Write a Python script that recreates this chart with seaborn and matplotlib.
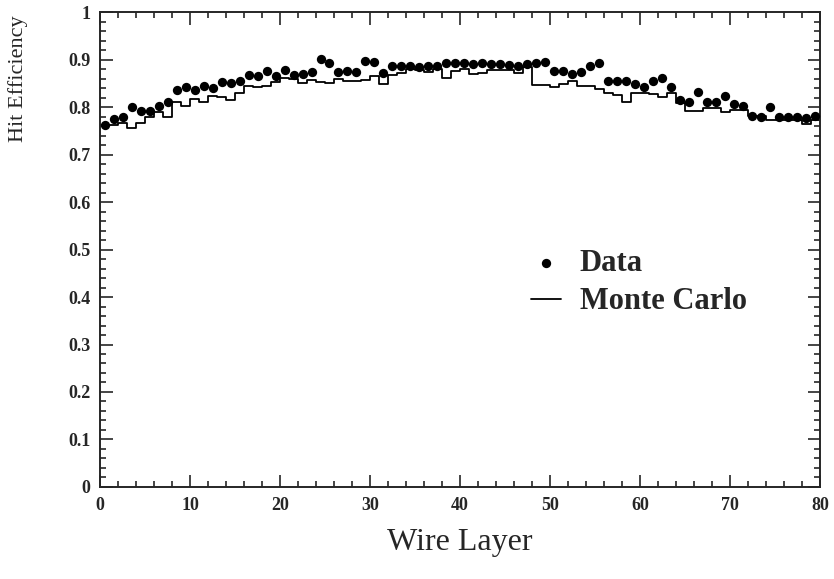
import numpy as np
import pandas as pd
import matplotlib
matplotlib.use("Agg")
import matplotlib.pyplot as plt
from matplotlib.ticker import MultipleLocator
import seaborn as sns

# --- values ---
layers = np.arange(80) + 0.5
data_eff = [0.763, 0.775, 0.780, 0.800, 0.791, 0.791, 0.802, 0.810, 0.835, 0.843,
            0.837, 0.845, 0.841, 0.852, 0.851, 0.854, 0.867, 0.866, 0.876, 0.865,
            0.879, 0.868, 0.870, 0.874, 0.902, 0.892, 0.873, 0.877, 0.874, 0.897,
            0.895, 0.871, 0.887, 0.887, 0.886, 0.884, 0.887, 0.887, 0.892, 0.892,
            0.893, 0.890, 0.892, 0.891, 0.891, 0.888, 0.886, 0.891, 0.892, 0.895,
            0.877, 0.876, 0.869, 0.873, 0.887, 0.892, 0.854, 0.854, 0.856, 0.849,
            0.843, 0.854, 0.862, 0.843, 0.816, 0.810, 0.832, 0.810, 0.811, 0.823,
            0.807, 0.802, 0.782, 0.780, 0.800, 0.779, 0.779, 0.779, 0.777, 0.782]
mc_eff = [0.762, 0.762, 0.767, 0.757, 0.767, 0.780, 0.789, 0.779, 0.810, 0.802,
          0.817, 0.811, 0.824, 0.821, 0.815, 0.829, 0.844, 0.843, 0.845, 0.852,
          0.861, 0.860, 0.851, 0.858, 0.853, 0.851, 0.859, 0.854, 0.854, 0.858,
          0.866, 0.849, 0.868, 0.872, 0.881, 0.879, 0.874, 0.881, 0.861, 0.876,
          0.881, 0.869, 0.872, 0.879, 0.879, 0.879, 0.872, 0.884, 0.846, 0.846,
          0.843, 0.849, 0.856, 0.844, 0.845, 0.839, 0.830, 0.825, 0.811, 0.830,
          0.830, 0.828, 0.822, 0.830, 0.809, 0.791, 0.791, 0.798, 0.798, 0.790,
          0.793, 0.793, 0.782, 0.782, 0.772, 0.772, 0.772, 0.772, 0.765, 0.772]
xticks = [0, 10, 20, 30, 40, 50, 60, 70, 80]
yticks = [0, 0.1, 0.2, 0.3, 0.4, 0.5, 0.6, 0.7, 0.8, 0.9, 1]
ytick_labels = ["0", "0.1", "0.2", "0.3", "0.4", "0.5", "0.6", "0.7", "0.8", "0.9", "1"]

sns.set_style("ticks")
plt.rcParams['font.family'] = ['Liberation Serif', 'DejaVu Serif']

fig = plt.figure(figsize=(8.34, 5.79), dpi=100)
ax = fig.add_axes([0.12, 0.159, 0.863, 0.82])

# Monte Carlo as a step histogram outline
edges = np.arange(81)
mc_df = pd.DataFrame({"layer": edges, "eff": list(mc_eff) + [mc_eff[-1]]})
sns.lineplot(data=mc_df, x="layer", y="eff", drawstyle="steps-post",
             color="black", linewidth=1.3, ax=ax, label="Monte Carlo")

data_df = pd.DataFrame({"layer": layers, "eff": data_eff})
sns.scatterplot(data=data_df, x="layer", y="eff", color="black", s=45,
                edgecolor="black", linewidth=0, ax=ax, label="Data", zorder=3)

ax.set_xlim(0, 80)
ax.set_ylim(0, 1)
ax.set_xticks(xticks)
ax.set_xticklabels([str(t) for t in xticks])
ax.set_yticks(yticks)
ax.set_yticklabels(ytick_labels)
ax.xaxis.set_minor_locator(MultipleLocator(2))
ax.yaxis.set_minor_locator(MultipleLocator(0.02))
ax.tick_params(which="both", direction="in", top=True, right=True, width=1.2)
ax.tick_params(which="major", length=9, labelsize=13, pad=7)
ax.tick_params(which="minor", length=4.5)
for lbl in ax.get_xticklabels() + ax.get_yticklabels():
    lbl.set_fontweight("bold")
for sp in ax.spines.values():
    sp.set_linewidth(1.4)

ax.set_xlabel("Wire Layer", fontsize=23, labelpad=10)
ax.set_ylabel("Hit Efficiency", fontsize=16, labelpad=12)
ax.yaxis.set_label_coords(-0.1, 0.86)

handles, labels = ax.get_legend_handles_labels()
order = [labels.index("Data"), labels.index("Monte Carlo")]
leg = ax.legend([handles[i] for i in order], [labels[i] for i in order],
                loc="center left", bbox_to_anchor=(0.56, 0.43), frameon=False,
                handlelength=1.0, handletextpad=0.6, labelspacing=0.3,
                prop={"weight": "bold", "size": 22})

fig.savefig("out.png", dpi=100)
